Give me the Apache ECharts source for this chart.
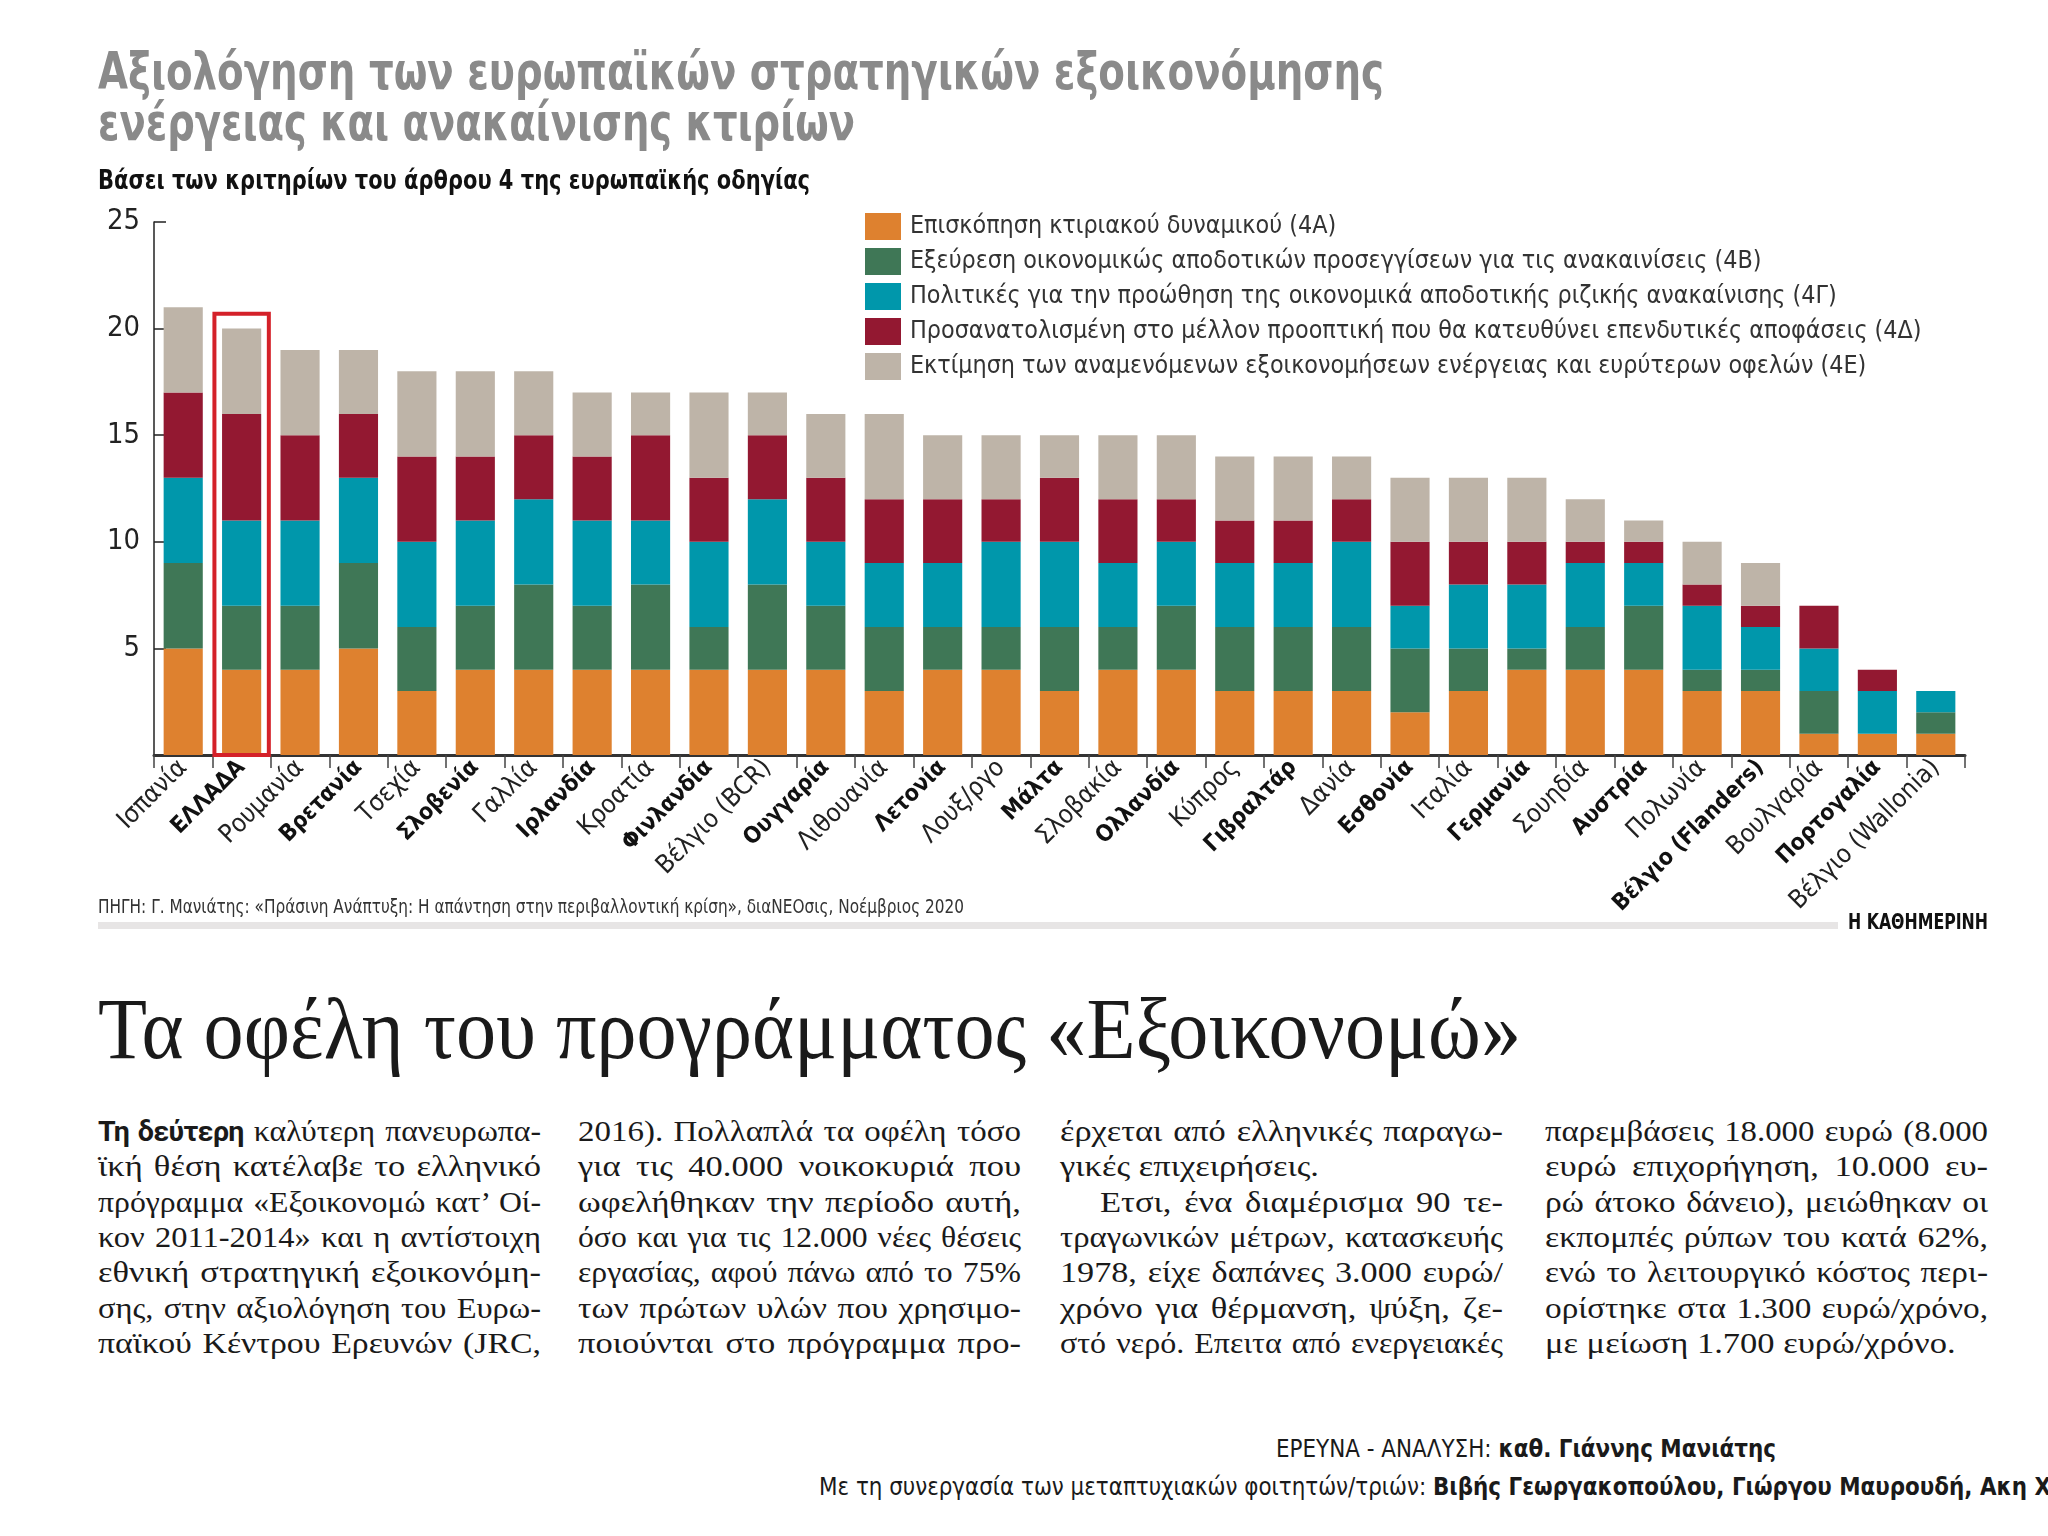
<!DOCTYPE html>
<html><head><meta charset="utf-8">
<script src="https://cdn.jsdelivr.net/npm/echarts@6/dist/echarts.min.js"></script>
<style>
html,body{margin:0;padding:0;background:#fff;}
body{width:2048px;height:1536px;position:relative;overflow:hidden;}
#chart{position:absolute;left:0;top:0;width:2048px;height:960px;}
.t{position:absolute;white-space:nowrap;transform-origin:0 0;line-height:1;}
.t b{font-weight:bold;}
.lead{font-family:Roboto,'Noto Sans',sans-serif;font-weight:bold;font-size:27px;letter-spacing:-0.6px;}
</style></head><body>
<div id="chart"></div>
<script>
// ---------------- DATA ----------------
const categories = ['Ισπανία','ΕΛΛΑΔΑ','Ρουμανία','Βρετανία','Τσεχία','Σλοβενία','Γαλλία','Ιρλανδία','Κροατία','Φινλανδία','Βέλγιο (BCR)','Ουγγαρία','Λιθουανία','Λετονία','Λουξ/ργο','Μάλτα','Σλοβακία','Ολλανδία','Κύπρος','Γιβραλτάρ','Δανία','Εσθονία','Ιταλία','Γερμανία','Σουηδία','Αυστρία','Πολωνία','Βέλγιο (Flanders)','Βουλγαρία','Πορτογαλία','Βέλγιο (Wallonia)'];
const seriesNames = ['Επισκόπηση κτιριακού δυναμικού (4Α)','Εξεύρεση οικονομικώς αποδοτικών προσεγγίσεων για τις ανακαινίσεις (4Β)','Πολιτικές για την προώθηση της οικονομικά αποδοτικής ριζικής ανακαίνισης (4Γ)','Προσανατολισμένη στο μέλλον προοπτική που θα κατευθύνει επενδυτικές αποφάσεις (4Δ)','Εκτίμηση των αναμενόμενων εξοικονομήσεων ενέργειας και ευρύτερων οφελών (4Ε)'];
const s4A = [5,4,4,5,3,4,4,4,4,4,4,4,3,4,4,3,4,4,3,3,3,2,3,4,4,4,3,3,1,1,1];
const s4B = [4,3,3,4,3,3,4,3,4,2,4,3,3,2,2,3,2,3,3,3,3,3,2,1,2,3,1,1,2,0,1];
const s4G = [4,4,4,4,4,4,4,4,3,4,4,3,3,3,4,4,3,3,3,3,4,2,3,3,3,2,3,2,2,2,1];
const s4D = [4,5,4,3,4,3,3,3,4,3,3,3,3,3,2,3,3,2,2,2,2,3,2,2,1,1,1,1,2,1,0];
const s4E = [4,4,4,3,4,4,3,3,2,4,2,3,4,3,3,2,3,3,3,3,2,3,3,3,2,1,2,2,0,0,0];
const yTicks = {min:0, max:25, interval:5};
const highlightCategory = 'ΕΛΛΑΔΑ';
const highlightTop = 20.7;

// ---------------- STYLE ----------------
const COND = "'Liberation Sans Narrow','DejaVu Sans Condensed','Roboto Condensed','Open Sans',Roboto,sans-serif";
const SERIF = "'Liberation Serif','DejaVu Serif',serif";
const colors = ['#de812f','#3f7756','#0097ab','#931831','#beb4a8'];

const ctx = document.createElement('canvas').getContext('2d');
function measure(text, font){ ctx.font = font; return ctx.measureText(text).width; }
const legendFs = 25 * 1012 / measure(seriesNames[3], '25px ' + COND);
const labelFs = 24 * 200 / measure('Βέλγιο (Wallonia)', '24px ' + COND);
const labelBoldFs = 24 * 203 / measure('Βέλγιο (Flanders)', 'bold 24px ' + COND);
const yFs = 28 * 33 / measure('25', '28px ' + COND);

const chart = echarts.init(document.getElementById('chart'), null, {renderer:'canvas'});
const allSeries = [s4A, s4B, s4G, s4D, s4E].map((d, i) => ({
  name: seriesNames[i], type: 'bar', stack: 'total', data: d,
  barCategoryGap: '33%', itemStyle: {color: colors[i]}, emphasis: {disabled: true}
}));
allSeries.push({
  type: 'custom', name: 'highlight', z: 10,
  data: [[highlightCategory, highlightTop]],
  encode: {x: 0, y: 1},
  renderItem: function(params, api){
    const x = api.value(0), y = api.value(1);
    const p = api.coord([x, y]); const p0 = api.coord([x, 0]);
    const w = api.size([1, 0])[0];
    return {type:'rect', shape:{x:p[0]-w/2+2, y:p[1], width:w-4, height:p0[1]-p[1]},
      style:{fill:'none', stroke:'#d42129', lineWidth:4}};
  }
});
chart.setOption({
  animation: false,
  grid: {left:154, top:222, width:1811, height:533, containLabel:false},
  legend: {
    data: seriesNames, orient:'vertical', left:865, top:213,
    itemWidth:36, itemHeight:27, itemGap:8, icon:'rect', padding:0, selectedMode:false,
    textStyle:{fontSize:legendFs, fontFamily:COND, color:'#333', lineHeight:27, padding:[0,0,0,4]}
  },
  xAxis: {
    type:'category', data: categories,
    axisLine:{lineStyle:{color:'#333', width:3}},
    axisTick:{show:true, length:13, interval:0, lineStyle:{color:'#444', width:1.5}},
    axisLabel:{
      interval:0, rotate:45, margin:9,
      formatter:(v, i) => (i % 2 ? '{b|' + v + '}' : '{n|' + v + '}'),
      rich:{
        n:{fontSize:labelFs, fontFamily:COND, color:'#222'},
        b:{fontWeight:'bold', fontSize:labelBoldFs, fontFamily:COND, color:'#111'}
      }
    }
  },
  yAxis: {
    type:'value', min:yTicks.min, max:yTicks.max, interval:yTicks.interval,
    axisLine:{show:true, lineStyle:{color:'#222', width:1.5}},
    axisTick:{show:true, inside:true, length:12, lineStyle:{color:'#222', width:1.5}},
    axisLabel:{showMinLabel:false, fontSize:yFs, fontFamily:COND, color:'#222', margin:14},
    splitLine:{show:false}
  },
  series: allSeries
});

// ---------------- HTML TEXT ----------------
function place(html, o){
  const d = document.createElement('div'); d.className = 't';
  d.style.left = o.left + 'px';
  d.style.fontSize = o.size + 'px';
  d.style.fontFamily = o.family;
  d.style.fontWeight = o.weight || 'normal';
  d.style.color = o.color || '#222';
  d.innerHTML = html + '<span class="m" style="display:inline-block;width:0;height:0"></span>';
  document.body.appendChild(d);
  const m = d.querySelector('.m');
  d.style.top = (o.baseline - m.offsetTop) + 'px';
  if (o.width){ const w = d.getBoundingClientRect().width; d.style.transform = 'scaleX(' + (o.width / w) + ')'; }
  return d;
}
place('Αξιολόγηση των ευρωπαϊκών στρατηγικών εξοικονόμησης', {left:98, baseline:89, size:51, family:COND, weight:'bold', color:'#8a8a8a', width:1286});
place('ενέργειας και ανακαίνισης κτιρίων', {left:98, baseline:140, size:51, family:COND, weight:'bold', color:'#8a8a8a', width:757});
place('Βάσει των κριτηρίων του άρθρου 4 της ευρωπαϊκής οδηγίας', {left:98, baseline:189, size:26, family:COND, weight:'bold', color:'#111', width:712});
place('ΠΗΓΗ: Γ. Μανιάτης: «Πράσινη Ανάπτυξη: Η απάντηση στην περιβαλλοντική κρίση», διαΝΕΟσις, Νοέμβριος 2020', {left:98, baseline:913, size:19, family:COND, color:'#333', width:866});
const band = document.createElement('div');
band.style.cssText = 'position:absolute;left:98px;top:922px;width:1740px;height:7px;background:#e7e5e5;';
document.body.appendChild(band);
place('Η ΚΑΘΗΜΕΡΙΝΗ', {left:1848, baseline:929, size:21, family:COND, weight:'bold', color:'#111', width:140});
place('Τα οφέλη του προγράμματος «Εξοικονομώ»', {left:98, baseline:1058, size:86, family:SERIF, color:'#1a1a1a', width:1423});

const cols = [
  [['<span class="lead">Τη δεύτερη</span> καλύτερη πανευρωπα-', 1],
   ['ϊκή θέση κατέλαβε το ελληνικό', 1],
   ['πρόγραμμα «Εξοικονομώ κατ’ Οί-', 1],
   ['κον 2011-2014» και η αντίστοιχη', 1],
   ['εθνική στρατηγική εξοικονόμη-', 1],
   ['σης, στην αξιολόγηση του Ευρω-', 1],
   ['παϊκού Κέντρου Ερευνών (JRC,', 1]],
  [['2016). Πολλαπλά τα οφέλη τόσο', 1],
   ['για τις 40.000 νοικοκυριά που', 1],
   ['ωφελήθηκαν την περίοδο αυτή,', 1],
   ['όσο και για τις 12.000 νέες θέσεις', 1],
   ['εργασίας, αφού πάνω από το 75%', 1],
   ['των πρώτων υλών που χρησιμο-', 1],
   ['ποιούνται στο πρόγραμμα προ-', 1]],
  [['έρχεται από ελληνικές παραγω-', 1],
   ['γικές επιχειρήσεις.', 0],
   ['Ετσι, ένα διαμέρισμα 90 τε-', 2],
   ['τραγωνικών μέτρων, κατασκευής', 1],
   ['1978, είχε δαπάνες 3.000 ευρώ/', 1],
   ['χρόνο για θέρμανση, ψύξη, ζε-', 1],
   ['στό νερό. Επειτα από ενεργειακές', 1]],
  [['παρεμβάσεις 18.000 ευρώ (8.000', 1],
   ['ευρώ επιχορήγηση, 10.000 ευ-', 1],
   ['ρώ άτοκο δάνειο), μειώθηκαν οι', 1],
   ['εκπομπές ρύπων του κατά 62%,', 1],
   ['ενώ το λειτουργικό κόστος περι-', 1],
   ['ορίστηκε στα 1.300 ευρώ/χρόνο,', 1],
   ['με μείωση 1.700 ευρώ/χρόνο.', 0]]
];
const colLeft = [98, 578, 1060, 1545];
const colW = 443, bodyFs = 30, lead = 35.3, firstBase = 1141, indent = 40;
const bodyFont = bodyFs + 'px ' + SERIF;
const sc = (401 / measure('με μείωση 1.700 ευρώ/χρόνο.', bodyFont) + 265 / measure('γικές επιχειρήσεις.', bodyFont)) / 2;
cols.forEach((lines, c) => {
  lines.forEach((ln, r) => {
    const [html, mode] = ln;
    const left = colLeft[c] + (mode === 2 ? indent : 0);
    const target = colW - (mode === 2 ? indent : 0);
    const d = place(html, {left:left, baseline:firstBase + r * lead, size:bodyFs, family:SERIF, color:'#1a1a1a'});
    const w = d.getBoundingClientRect().width;
    const minW = w + (d.textContent.split(' ').length - 1) * 2; // keep spaces visible
    if (mode){
      const n = d.textContent.split(' ').length - 1;
      if (minW * sc <= target){
        d.style.wordSpacing = ((target / sc - w) / n) + 'px';
        d.style.transform = 'scaleX(' + sc + ')';
      } else {
        d.style.wordSpacing = '2px';
        d.style.transform = 'scaleX(' + (target / minW) + ')';
      }
    } else {
      d.style.transform = 'scaleX(' + Math.min(sc, target / w) + ')';
    }
  });
});

place('ΕΡΕΥΝΑ - ΑΝΑΛΥΣΗ: <b>καθ. Γιάννης Μανιάτης</b>', {left:1276, baseline:1457, size:25, family:COND, color:'#1a1a1a', width:500});
place('Με τη συνεργασία των μεταπτυχιακών φοιτητών/τριών: <b>Βιβής Γεωργακοπούλου, Γιώργου Μαυρουδή, Ακη Χ</b>', {left:819, baseline:1495, size:25, family:COND, color:'#1a1a1a', width:1232});
</script>
</body></html>
